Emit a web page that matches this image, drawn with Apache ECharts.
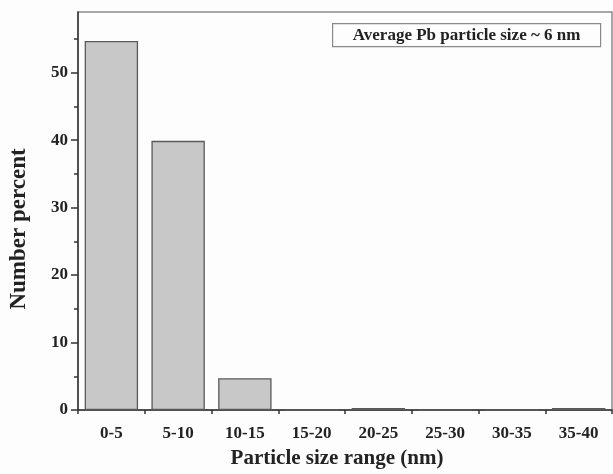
<!DOCTYPE html>
<html>
<head>
<meta charset="utf-8">
<script src="https://cdn.jsdelivr.net/npm/echarts@6/dist/echarts.min.js"></script>
<style>
  html, body { margin: 0; padding: 0; background: #fdfdfd; }
  #chart { width: 613px; height: 474px; }
</style>
</head>
<body>
<div id="chart"></div>
<script>
// Size bins and their share of counted particles (%)
const sizeRanges = ['0-5', '5-10', '10-15', '15-20', '20-25', '25-30', '30-35', '35-40'];
const numberPercent = [54.7, 39.9, 4.7, 0, 0.3, 0, 0, 0.3];

// Y axis ticks: labelled majors and unlabelled minors
const yMajorTicks = [0, 10, 20, 30, 40, 50];
const yMinorTicks = [5, 15, 25, 35, 45, 55];
const yMax = 59;

const annotation = 'Average Pb particle size ~ 6 nm';

const fontFamily = '"Liberation Serif", "Times New Roman", serif';
const axisColor = '#333';

const chart = echarts.init(document.getElementById('chart'), null, { renderer: 'canvas' });

chart.setOption({
  backgroundColor: '#fdfdfd',
  animation: false,
  grid: {
    left: 77, right: 1, top: 12, bottom: 63,
    show: true, borderColor: '#8a8a8a', borderWidth: 1.5,
    backgroundColor: 'transparent'
  },
  xAxis: [
    {
      type: 'category',
      data: sizeRanges,
      name: 'Particle size range (nm)',
      nameLocation: 'middle',
      nameGap: 38,
      nameTextStyle: { fontFamily, fontWeight: 'bold', fontSize: 21, color: '#222', padding: [0, 16, 0, 0] },
      axisLine: { lineStyle: { color: axisColor, width: 1.5 } },
      axisTick: { alignWithLabel: true, inside: false, length: 7, lineStyle: { color: axisColor, width: 1.5 } },
      axisLabel: { fontFamily, fontWeight: 'bold', fontSize: 17, color: '#222', margin: 15 },
      splitLine: { show: false }
    },
    {
      // Bin boundary ticks
      type: 'category',
      data: sizeRanges,
      position: 'bottom',
      axisLine: { show: false },
      axisTick: { show: true, length: 4, lineStyle: { color: axisColor, width: 1.5 } },
      axisLabel: { show: false },
      splitLine: { show: false }
    }
  ],
  yAxis: [
    {
      type: 'value',
      min: 0, max: yMax,
      name: 'Number percent',
      nameLocation: 'middle',
      nameGap: 47,
      nameTextStyle: { fontFamily, fontWeight: 'bold', fontSize: 23, color: '#222', padding: [0, 36, 0, 0] },
      axisLine: { show: true, lineStyle: { color: axisColor, width: 1.5 } },
      axisTick: { show: true, length: 7, customValues: yMajorTicks, lineStyle: { color: axisColor, width: 1.5 } },
      axisLabel: { fontFamily, fontWeight: 'bold', fontSize: 17, color: '#222', margin: 10, customValues: yMajorTicks },
      splitLine: { show: false }
    },
    {
      type: 'value',
      min: 0, max: yMax,
      position: 'left',
      offset: 0,
      axisLine: { show: false },
      axisTick: { show: true, length: 4, customValues: yMinorTicks, lineStyle: { color: axisColor, width: 1.5 } },
      axisLabel: { show: false },
      splitLine: { show: false }
    }
  ],
  series: [
    {
      type: 'bar',
      data: numberPercent,
      xAxisIndex: 0,
      yAxisIndex: 0,
      barCategoryGap: '20%',
      itemStyle: { color: '#c8c8c8', borderColor: '#5a5a5a', borderWidth: 1.3 }
    }
  ],
  graphic: [
    {
      type: 'group',
      left: 332, top: 23,
      children: [
        {
          type: 'rect',
          shape: { x: 0, y: 0, width: 268, height: 23 },
          style: { fill: '#fdfdfd', stroke: '#8a8a8a', lineWidth: 1.2 }
        },
        {
          type: 'text',
          x: 134, y: 12,
          style: {
            text: annotation,
            fontFamily, fontWeight: 'bold', fontSize: 17, fill: '#222',
            align: 'center', verticalAlign: 'middle'
          }
        }
      ]
    }
  ]
});
</script>
</body>
</html>
